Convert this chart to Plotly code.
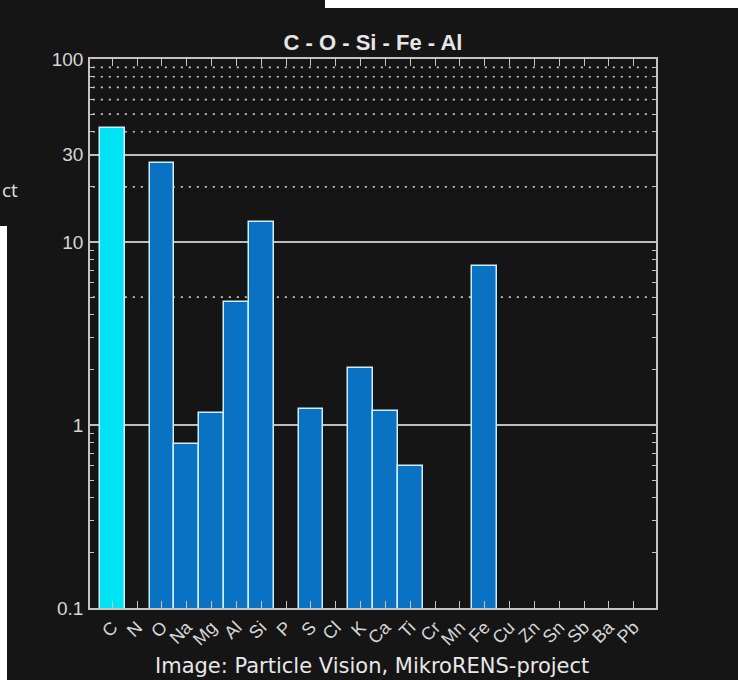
import plotly.graph_objects as go

# Element composition (log scale), one bar per element
elements = ["C", "N", "O", "Na", "Mg", "Al", "Si", "P", "S", "Cl", "K", "Ca",
            "Ti", "Cr", "Mn", "Fe", "Cu", "Zn", "Sn", "Sb", "Ba", "Pb"]
values = [42.0, None, 27.0, 0.79, 1.17, 4.7, 12.9, None, 1.22, None, 2.05, 1.19,
          0.60, None, None, 7.4, None, None, None, None, None, None]
highlight = ["C"]

y_tick_vals = [0.1, 1, 10, 30, 100]
y_tick_text = ["0.1", "1", "10", "30", "100"]
minor_tick_vals = [0.2, 0.3, 0.4, 0.5, 0.6, 0.7, 0.8, 0.9,
                   2, 3, 4, 5, 6, 7, 8, 9, 20, 40, 50, 60, 70, 80, 90]
dotted_grid_vals = [5, 20, 40, 50, 60, 70, 80, 90]

title_text = "C - O - Si - Fe - Al"
caption_text = "Image: Particle Vision, MikroRENS-project"

BG = "#151515"
AXIS = "#c4c4c4"
TEXT = "#d6d6d6"

bar_colors = ["#00e3f5" if e in highlight else "#0a72c2" for e in elements]

fig = go.Figure()
fig.add_trace(go.Bar(
    x=elements, y=values,
    marker=dict(color=bar_colors, line=dict(color="#cdeefa", width=1.5)),
    width=1.0,
    hoverinfo="x+y",
))

shapes = []
for v in dotted_grid_vals:
    shapes.append(dict(type="line", xref="paper", yref="y", x0=0.005, x1=0.995,
                       y0=v, y1=v, layer="below",
                       line=dict(color="#c8c8c8", width=1.6, dash="2px,6px")))
# white panel edges
shapes.append(dict(type="rect", xref="paper", yref="paper",
                   x0=-0.2, x1=(7 - 90) / 566, y0=-0.2, y1=(608 - 226) / 549,
                   fillcolor="white", line=dict(width=0), layer="above"))
shapes.append(dict(type="rect", xref="paper", yref="paper",
                   x0=(325 - 90) / 566, x1=1.3, y0=(608 - 8) / 549, y1=1.2,
                   fillcolor="white", line=dict(width=0), layer="above"))

fig.update_layout(
    width=738, height=680,
    margin=dict(l=90, r=82, t=59, b=72),
    paper_bgcolor=BG, plot_bgcolor=BG,
    showlegend=False,
    bargap=0,
    shapes=shapes,
    title=dict(text="<b>" + title_text + "</b>", x=0.5, xref="paper", xanchor="center",
               y=1 - 42 / 680, yanchor="middle",
               font=dict(family="Liberation Sans, Arial", size=22, color="#e6e6e6")),
    xaxis=dict(
        type="category", categoryorder="array", categoryarray=elements,
        range=[-0.9, 21.9],
        showline=True, linecolor=AXIS, linewidth=1.5, mirror="ticks",
        ticks="inside", ticklen=7, tickwidth=1.2, tickcolor=AXIS,
        showgrid=False, zeroline=False,
        tickangle=-45,
        tickfont=dict(family="Liberation Sans, Arial", size=18, color=TEXT),
    ),
    yaxis=dict(
        type="log", range=[-1, 2],
        tickmode="array", tickvals=y_tick_vals, ticktext=y_tick_text,
        showline=True, linecolor=AXIS, linewidth=1.5, mirror="ticks",
        ticks="inside", ticklen=6, tickwidth=1.2, tickcolor=AXIS,
        showgrid=True, gridcolor="#bdbdbd", gridwidth=1.5,
        zeroline=False,
        minor=dict(tickmode="array", tickvals=minor_tick_vals, ticks="inside",
                   ticklen=4, tickwidth=1, tickcolor=AXIS, showgrid=False),
        tickfont=dict(family="Liberation Sans, Arial", size=19, color=TEXT),
        ticklabelstandoff=1,
    ),
    annotations=[
        dict(text=caption_text, xref="paper", yref="paper",
             x=(372 - 90) / 566, y=(608 - 666) / 549, xanchor="center", yanchor="middle",
             showarrow=False,
             font=dict(family="DejaVu Sans", size=21, color="#e8e8e8")),
        dict(text="ct", xref="paper", yref="paper",
             x=(0 - 90) / 566, y=(608 - 190) / 549, xanchor="left", yanchor="middle",
             showarrow=False,
             font=dict(family="Open Sans", size=19, color="#e0e0e0")),
    ],
)

fig.write_html("out.html")
